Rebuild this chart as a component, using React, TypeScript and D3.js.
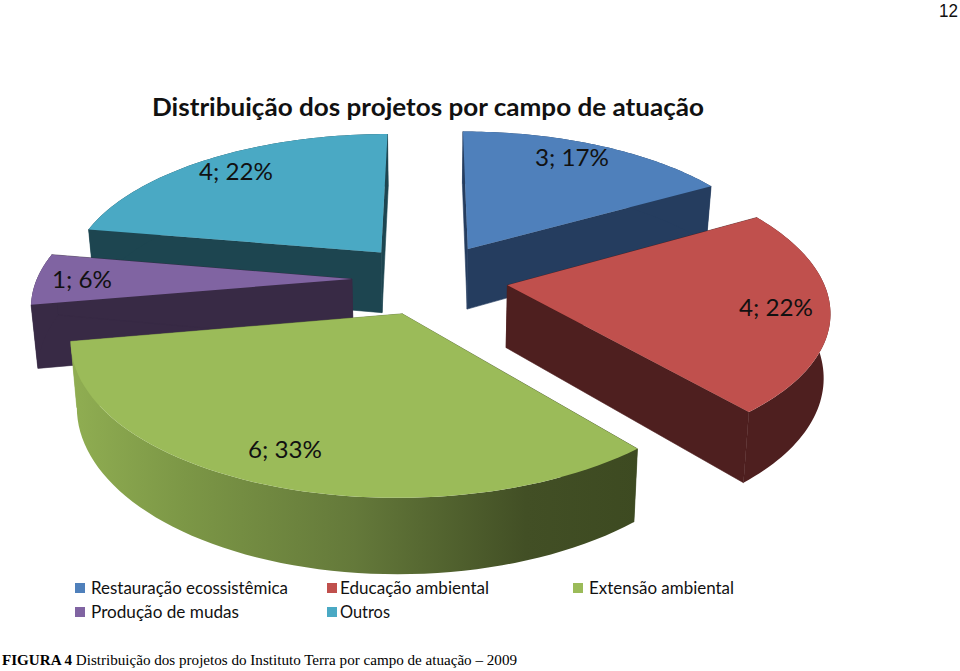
import React from "react";
import * as d3 from "d3";

const categories = ["Restauração ecossistêmica", "Educação ambiental", "Extensão ambiental", "Produção de mudas", "Outros"];
const values = [3, 4, 6, 1, 4];
const percents = [17, 22, 33, 6, 22];
const topColors = ["#4f80bb", "#c0504d", "#9bbb59", "#8064a2", "#4aa9c4"];
const wallColors = ["#253d5f", "#4e1f1f", "url(#greenRim)", "#382a45", "#1d4550"];
const paintOrder = [0, 4, 3, 1, 2];

const cx = 430, cy = 279, Rx = 315, Ry = 144, persp = 0.153, explode = 0.248, depth = 62, shrink = 0.983;

type P = [number, number];
const scaleAt = (v: number) => 1 / (1 - persp * v);
const top = (u: number, v: number): P => {
  const s = scaleAt(v);
  return [cx + Rx * u * s, cy + Ry * v * s];
};
const bottom = (u: number, v: number): P => {
  const [x, y] = top(u, v);
  return [cx + (x - cx) * shrink, y + depth * scaleAt(v)];
};
const line = d3.line<P>();

const arcs = d3.pie<number>().sort(null)(values);

const labelPos: P[] = [[572, 166], [776, 316], [285, 458], [82, 288], [236, 180]];
const legendCols = [75, 327, 573];
const legendRows = [583, 607];
const legendWidths = [197, 149, 145, 148, 50];

function T({ x, y, w, size, children, weight, family = "Lato, sans-serif", anchor = "start", fill = "#111" }: any) {
  return (
    <text x={x} y={y} fontSize={size} fontFamily={family} fontWeight={weight} textAnchor={anchor} fill={fill}
      textLength={w} lengthAdjust="spacingAndGlyphs">{children}</text>
  );
}

export default function App() {
  const slices = paintOrder.map((i) => {
    const a = arcs[i];
    const mid = (a.startAngle + a.endAngle) / 2;
    const ou = explode * Math.sin(mid), ov = -explode * Math.cos(mid);
    const thetas = d3.range(0, 61).map((k) => a.startAngle + ((a.endAngle - a.startAngle) * k) / 60);
    const rim: P[] = thetas.map((t) => [ou + Math.sin(t), ov - Math.cos(t)]);
    const topRim = rim.map(([u, v]) => top(u, v));
    const botRim = rim.map(([u, v]) => bottom(u, v));
    const apexT = top(ou, ov), apexB = bottom(ou, ov);
    return {
      i,
      topPath: line([apexT, ...topRim])! + "Z",
      wallA: line([apexT, topRim[0], botRim[0], apexB])! + "Z",
      wallB: line([apexT, topRim[60], botRim[60], apexB])! + "Z",
      outer: line([...topRim, ...[...botRim].reverse()])! + "Z",
    };
  });
  return (
    <svg width={960} height={671} style={{ position: "absolute", left: 0, top: 0, background: "#fff" }}>
      <defs>
        <linearGradient id="greenRim" gradientUnits="userSpaceOnUse" x1={70} x2={640} y1={0} y2={0}>
          <stop offset="0" stopColor="#90ae52" />
          <stop offset="0.2" stopColor="#7c9746" />
          <stop offset="0.5" stopColor="#64793a" />
          <stop offset="0.8" stopColor="#424f25" />
          <stop offset="1" stopColor="#3d4a21" />
        </linearGradient>
      </defs>
      <T x={939} y={17} w={19} size={19} family="'Liberation Sans', sans-serif">12</T>
      <T x={152} y={116} w={552} size={24} weight={700}>Distribuição dos projetos por campo de atuação</T>
      {slices.map((s) => (
        <g key={s.i}>
          <path d={s.wallA} fill={wallColors[s.i]} stroke={wallColors[s.i]} strokeWidth={0.6} />
          <path d={s.wallB} fill={wallColors[s.i]} stroke={wallColors[s.i]} strokeWidth={0.6} />
          <path d={s.outer} fill={wallColors[s.i]} />
          <path d={s.topPath} fill={topColors[s.i]} />
        </g>
      ))}
      {values.map((v, i) => (
        <T key={i} x={labelPos[i][0]} y={labelPos[i][1]} size={24} anchor="middle" w={i === 3 ? 60 : 74}>{`${v}; ${percents[i]}%`}</T>
      ))}
      {categories.map((c, i) => {
        const col = i < 3 ? i : i - 3, row = i < 3 ? 0 : 1;
        return (
          <g key={c}>
            <rect x={legendCols[col]} y={legendRows[row]} width={10} height={10} fill={topColors[i]} />
            <T x={legendCols[col] + (col === 1 ? 13 : 16)} y={legendRows[row] + 11} w={legendWidths[i]} size={17}>{c}</T>
          </g>
        );
      })}
      <text x={2} y={665} fontFamily="'Liberation Serif', serif" fontSize={14.5} fill="#000" textLength={515} lengthAdjust="spacingAndGlyphs">
        <tspan fontWeight={700}>FIGURA 4</tspan> Distribuição dos projetos do Instituto Terra por campo de atuação – 2009
      </text>
    </svg>
  );
}
